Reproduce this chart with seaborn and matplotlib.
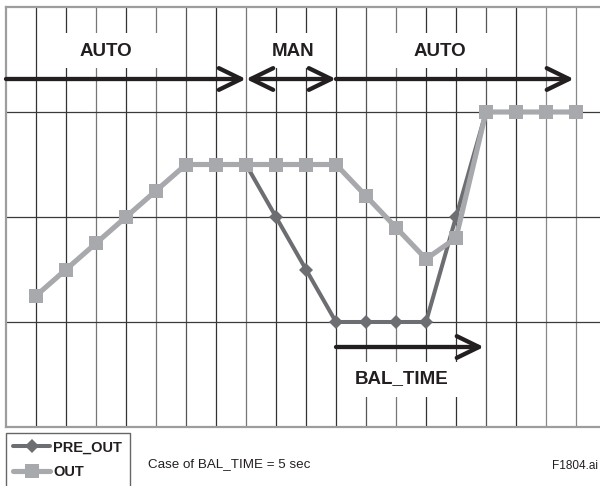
import numpy as np
import pandas as pd
import matplotlib
matplotlib.use("Agg")
import matplotlib.pyplot as plt
from matplotlib.patches import Rectangle
import seaborn as sns

# ---------------- data ----------------
steps = list(range(19))
out_values = [1.25, 1.5, 1.75, 2.0, 2.25, 2.5, 2.5, 2.5, 2.5, 2.5, 2.5,
              2.2, 1.9, 1.6, 1.8, 3.0, 3.0, 3.0, 3.0]
pre_out_values = [None, None, None, None, None, None, None, 2.5, 2.0, 1.5, 1.0,
                  1.0, 1.0, 1.0, 2.0, 3.0, None, None, None]
series_names = ["PRE_OUT", "OUT"]
mode_labels = ["AUTO", "MAN", "AUTO"]
mode_bounds = [-1, 7, 10, 17.93]      # x positions of the mode arrows
bal_bounds = [10, 14.93]              # BAL_TIME arrow span
caption = "Case of BAL_TIME = 5 sec"
figure_id = "F1804.ai"

# ---------------- style ----------------
sns.set_theme(style="white")
plt.rcParams["font.family"] = ["Liberation Sans", "DejaVu Sans"]
TXT = "#231f20"
C_OUT = "#a7a9ac"
C_PRE = "#6d6e71"

W, H = 600, 486
fig = plt.figure(figsize=(6.0, 4.86), dpi=100)
# axes: left 6px, top 7px, bottom 427px, right beyond figure edge (606px)
ax = fig.add_axes([6 / W, 1 - 427 / H, 600 / W, 420 / H])
ax.set_xlim(-1, 19)
ax.set_ylim(0, 4)
ax.set_xticks([])
ax.set_yticks([])
for sp in ax.spines.values():
    sp.set_color("#9d9d9d")
    sp.set_linewidth(1.6)

def px2x(px):
    return (px - 36) / 30.0

def px2y(py):
    return (427 - py) / 105.0

# grid lines
vcolors = ["#333333", "#333333", "#777777", "#333333", "#777777", "#555555",
           "#333333", "#777777", "#333333", "#333333", "#333333", "#555555",
           "#777777", "#333333", "#333333", "#555555", "#333333", "#888888", "#888888"]
for xv, c in zip(steps, vcolors):
    ax.axvline(xv, color=c, lw=0.9, zorder=1)
for yv in [1, 2, 3]:
    ax.axhline(yv, color="#3a3a3a", lw=0.9, zorder=1)

# white boxes behind labels (break the grid lines)
boxes = [(58, 160, 33, 68), (262, 322, 33, 68), (388, 494, 33, 68), (350, 472, 362, 397)]
for x0, x1, y0, y1 in boxes:
    ax.add_patch(Rectangle((px2x(x0), px2y(y1)), px2x(x1) - px2x(x0), px2y(y0) - px2y(y1),
                           facecolor="white", edgecolor="none", zorder=2))

# arrows
arr_y = px2y(79)
def arrow(x0, x1, y, style):
    ax.annotate("", xy=(x1, y), xytext=(x0, y),
                arrowprops=dict(arrowstyle=style + ",head_length=16,head_width=7.8",
                                mutation_scale=1,
                                lw=3.1, color=TXT, shrinkA=0, shrinkB=0,
                                capstyle="round", joinstyle="round"),
                zorder=3)
arrow(mode_bounds[0], mode_bounds[1], arr_y, "->")
arrow(mode_bounds[1], mode_bounds[2], arr_y, "<->")
arrow(mode_bounds[2], mode_bounds[3], arr_y, "->")
arrow(bal_bounds[0], bal_bounds[1], px2y(347), "->")

# labels
lab_kw = dict(ha="center", va="center", fontsize=13.5, fontweight="bold", color=TXT, zorder=6)
ax.text(px2x(105.5), px2y(51), mode_labels[0], **lab_kw)
ax.text(px2x(293), px2y(51), mode_labels[1], **lab_kw)
ax.text(px2x(440), px2y(51), mode_labels[2], **lab_kw)
ax.text(px2x(402), px2y(379), "BAL_TIME", **lab_kw)

# series
df_pre = pd.DataFrame({"step": steps, "value": pre_out_values}).dropna()
df_out = pd.DataFrame({"step": steps, "value": out_values})
sns.lineplot(data=df_pre, x="step", y="value", ax=ax, color=C_PRE, lw=2.9,
             marker="D", markersize=7.5, markeredgewidth=0, label=series_names[0],
             zorder=4, legend=False)
sns.lineplot(data=df_out, x="step", y="value", ax=ax, color=C_OUT, lw=3.7,
             marker="s", markersize=10, markeredgewidth=0, label=series_names[1],
             zorder=5, legend=False)
ax.set_xlabel("")
ax.set_ylabel("")
ax.set_xlim(-1, 19)
ax.set_ylim(0, 4)

# legend
handles = ax.lines[-2:]
leg = fig.legend(handles, series_names, loc="upper left",
                 bbox_to_anchor=(6 / W, 1 - 433 / H), bbox_transform=fig.transFigure,
                 frameon=True, fancybox=False, edgecolor="#666666", framealpha=1,
                 borderpad=0.5, borderaxespad=0, handlelength=2.5, handletextpad=0.25,
                 labelspacing=0.75, numpoints=1,
                 prop=dict(family=["Liberation Sans"], weight="bold", size=10.5))
leg.get_frame().set_linewidth(1.0)
for t in leg.get_texts():
    t.set_color(TXT)

fig.text(148 / W, 1 - 464 / H, caption, ha="left", va="center", fontsize=9.6, color=TXT)
fig.text(598 / W, 1 - 466 / H, figure_id, ha="right", va="center", fontsize=8.5, color=TXT)

fig.savefig("out.png", dpi=100)
